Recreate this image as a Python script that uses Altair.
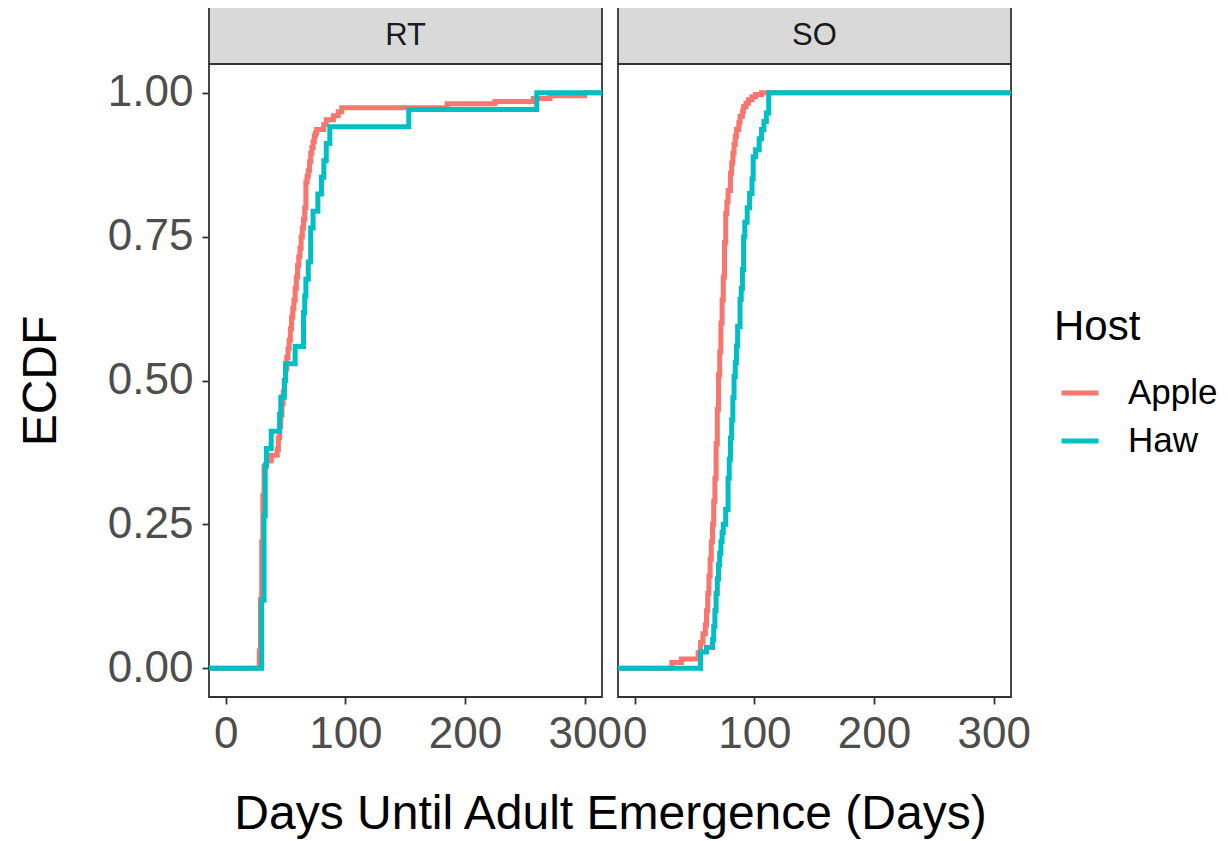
import altair as alt
import pandas as pd

# ---------------- data ----------------
sites = ["RT", "SO"]
hosts = ["Apple", "Haw"]
host_colors = ["#F8766D", "#00BFC4"]

rt_apple_days = [-14, 28, 29, 30, 31, 32, 34, 38, 43, 44, 45, 46, 47, 48, 49, 50, 51, 52,
                 53, 54, 55, 56, 57, 58, 59, 60, 61, 62, 63, 64, 65, 66, 67, 68, 69, 70,
                 71, 72, 73, 74, 75, 76, 82, 84, 90, 94, 97, 185, 225, 257, 271, 300, 314.5]
rt_apple_ecdf = [0, 0.03, 0.12, 0.22, 0.30, 0.35, 0.36, 0.37, 0.38, 0.40, 0.42, 0.44, 0.46,
                 0.48, 0.50, 0.52, 0.54, 0.555, 0.57, 0.59, 0.61, 0.625, 0.64, 0.66, 0.68,
                 0.70, 0.715, 0.73, 0.75, 0.765, 0.78, 0.80, 0.845, 0.855, 0.865, 0.88,
                 0.895, 0.905, 0.915, 0.925, 0.93, 0.936, 0.945, 0.953, 0.96, 0.967, 0.974,
                 0.981, 0.985, 0.99, 0.995, 1.0, 1.0]

rt_haw_days = [-14, 30, 32, 33, 34, 38, 45, 46, 49, 50, 58, 65, 66, 67, 69, 71, 73, 77, 80,
               82, 84, 87, 153, 260, 314.5]
rt_haw_ecdf = [0, 0.118, 0.265, 0.353, 0.382, 0.412, 0.441, 0.471, 0.5, 0.529, 0.559, 0.618,
               0.647, 0.676, 0.706, 0.765, 0.794, 0.824, 0.853, 0.882, 0.912, 0.941, 0.971,
               1.0, 1.0]

so_apple_days = [-14, 31, 39, 53, 55, 57, 59, 60, 61, 62, 63, 64, 65, 66, 67, 68, 69, 70, 71,
                 72, 73, 74, 75, 76, 77, 78, 80, 81, 82, 83, 84, 85, 87, 88, 90, 91, 93, 95,
                 98, 101, 106, 314.5]
so_apple_ecdf = [0, 0.01, 0.016, 0.027, 0.045, 0.06, 0.075, 0.10, 0.13, 0.16, 0.19, 0.22,
                 0.25, 0.29, 0.33, 0.39, 0.45, 0.51, 0.55, 0.60, 0.64, 0.68, 0.74, 0.79, 0.81,
                 0.83, 0.86, 0.878, 0.895, 0.91, 0.924, 0.936, 0.948, 0.959, 0.968, 0.976,
                 0.982, 0.988, 0.993, 0.997, 1.0, 1.0]

so_haw_days = [-14, 55, 60, 65, 66, 67, 68, 69, 70, 71, 72, 73, 74, 76, 78, 79, 80, 81, 82, 83,
               84, 85, 86, 88, 89, 90, 91, 92, 94, 96, 98, 99, 101, 104, 106, 108, 110, 112,
               314.5]
so_haw_ecdf = [0, 0.028, 0.036, 0.05, 0.073, 0.10, 0.13, 0.155, 0.18, 0.20, 0.22, 0.236, 0.25,
               0.276, 0.33, 0.363, 0.40, 0.432, 0.47, 0.507, 0.531, 0.56, 0.594, 0.641, 0.66,
               0.693, 0.75, 0.775, 0.80, 0.825, 0.85, 0.889, 0.901, 0.92, 0.936, 0.95, 0.965,
               1.0, 1.0]

x_ticks = [0, 100, 200, 300]
y_ticks = [0, 0.25, 0.5, 0.75, 1.0]

series = [
    ("RT", "Apple", rt_apple_days, rt_apple_ecdf),
    ("RT", "Haw", rt_haw_days, rt_haw_ecdf),
    ("SO", "Apple", so_apple_days, so_apple_ecdf),
    ("SO", "Haw", so_haw_days, so_haw_ecdf),
]
rows = []
for site, host, xs, ys in series:
    for xv, yv in zip(xs, ys):
        rows.append({"site": site, "host": host, "days": xv, "ecdf": yv,
                     "order": hosts.index(host)})
df = pd.DataFrame(rows)

# ---------------- layout / style ----------------
FONT = "Liberation Sans"
W, H = 393, 633
STRIP_H = 57
GAP = 16
XDOM = [-14, 314.5]
YDOM = [-0.05, 1.05]
DARK = "#333333"
AXTXT = "#4D4D4D"


def panel(site, first):
    d = df[df["site"] == site]
    x_axis = alt.Axis(
        values=x_ticks, format="d", grid=False, domain=False,
        labelFontSize=44, labelFont=FONT, labelColor=AXTXT, labelPadding=8,
        labelFlush=False, labelOverlap=False,
        tickSize=7, tickWidth=1.8, tickColor=DARK,
        title="Days Until Adult Emergence (Days)" if first else None,
        titleFontSize=48, titleFont=FONT, titleFontWeight="normal", titleColor="black",
        titlePadding=34, titleX=(2 * W + GAP) / 2, titleAlign="center",
    )
    if first:
        y_axis = alt.Axis(
            values=y_ticks, format=".2f", grid=False, domain=False,
            labelFontSize=44, labelFont=FONT, labelColor=AXTXT, labelPadding=9,
            tickSize=7, tickWidth=1.8, tickColor=DARK,
            title="ECDF", titleFontSize=48, titleFont=FONT, titleFontWeight="normal",
            titleColor="black", titlePadding=42,
        )
        legend = None
    else:
        y_axis = None
        legend = alt.Legend(
            title="Host", orient="none", legendX=436, legendY=243,
            titleFontSize=42, titleFont=FONT, titleFontWeight="normal",
            titleColor="black", titlePadding=23,
            labelFontSize=35, labelFont=FONT, labelColor="black", labelOffset=27,
            symbolType="stroke", symbolStrokeWidth=5, symbolSize=1369,
            symbolOffset=5, rowPadding=9, padding=0,
        )

    line = alt.Chart(d).mark_line(
        interpolate="step-after", strokeWidth=5, clip=True
    ).encode(
        x=alt.X("days:Q", scale=alt.Scale(domain=XDOM, nice=False, zero=False), axis=x_axis),
        y=alt.Y("ecdf:Q", scale=alt.Scale(domain=YDOM, nice=False, zero=False), axis=y_axis),
        color=alt.Color(
            "host:N",
            scale=alt.Scale(domain=hosts, range=host_colors),
            legend=legend,
        ),
        order=alt.Order("order:Q"),
    )

    strip_data = alt.Data(values=[{"lab": site}])
    strip = alt.Chart(strip_data).mark_rect(
        fill="#D9D9D9", stroke=DARK, strokeWidth=1.8
    ).encode(
        x=alt.value(0), x2=alt.value(W), y=alt.value(-STRIP_H), y2=alt.value(0)
    )
    strip_txt = alt.Chart(strip_data).mark_text(
        fontSize=31, font=FONT, color="#1A1A1A", baseline="middle", align="center"
    ).encode(
        x=alt.value(W / 2), y=alt.value(-STRIP_H / 2), text="lab:N"
    )
    return alt.layer(strip, strip_txt, line).properties(width=W, height=H)


chart = alt.hconcat(
    panel("RT", True), panel("SO", False), spacing=GAP, bounds="flush"
).resolve_scale(
    color="independent"
).properties(
    padding={"left": 8, "top": -3, "right": 0, "bottom": 0}
).configure(
    background="white"
).configure_view(
    stroke=DARK, strokeWidth=1.8
)

chart.save("out.html", embed_options={"renderer": "svg", "actions": False})
